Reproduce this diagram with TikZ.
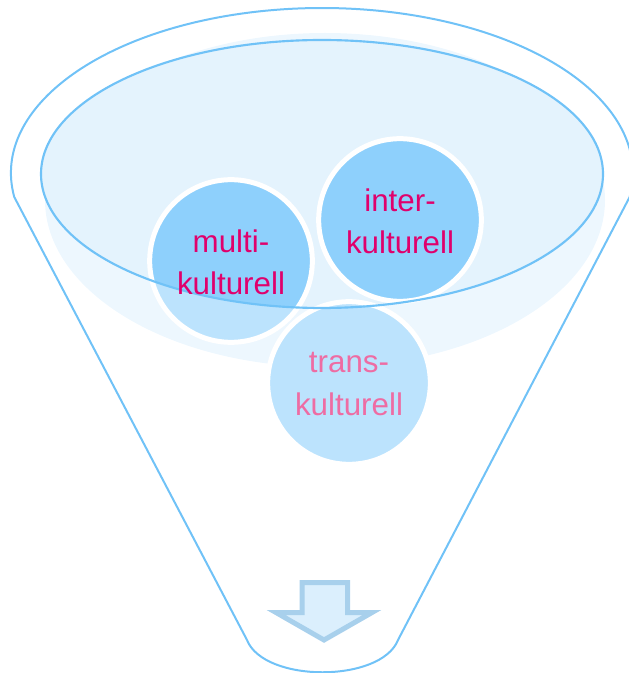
\documentclass[tikz,border=0pt]{standalone}
\usepackage{fontspec}
\setmainfont{Liberation Sans}
\definecolor{lineblue}{HTML}{70C2F7}
\definecolor{bowlfill}{HTML}{EDF7FE}
\definecolor{surface}{HTML}{E4F3FD}
\definecolor{darkbub}{HTML}{8ED0FC}
\definecolor{lightbub}{HTML}{BCE3FD}
\definecolor{magtext}{HTML}{E0006C}
\definecolor{pinktext}{HTML}{EE6CA3}
\definecolor{arrowfill}{HTML}{DBEFFD}
\definecolor{arrowline}{HTML}{A8D0EC}
\begin{document}
\begin{tikzpicture}[x=0.75pt,y=-0.75pt,
  bubble/.style={circle, draw=white, line width=3.75pt, minimum size=122pt, inner sep=0pt},
  label/.style={align=center, font=\fontsize{23.5}{32}\selectfont, inner sep=0pt},
  funnel/.style={draw=lineblue, line width=1.5pt, line join=round},
  rim/.style={draw=lineblue, line width=1.6pt}]
\useasboundingbox (0,0) rectangle (628,673);
% bowl content
\fill[bowlfill] (325,200) ellipse [x radius=210pt, y radius=125.25pt];
\coordinate (ec) at (322,174);
\fill[surface] (ec) ellipse [x radius=210.75pt, y radius=100.5pt];
% bubbles
\node[bubble, fill=lightbub,
  path picture={\fill[darkbub] (ec) ellipse [x radius=210.75pt, y radius=100.5pt];}]
  (multiC) at (231,261) {};
\node[bubble, fill=lightbub,
  path picture={\fill[darkbub] (ec) ellipse [x radius=210.75pt, y radius=100.5pt];}]
  (interC) at (400,220) {};
\node[bubble, fill=lightbub] (transC) at (349,383) {};
% surface rim
\draw[rim] (ec) ellipse [x radius=210.75pt, y radius=100.5pt];
% funnel outline
\draw[funnel] (247,640) -- (14.3,197.1)
  arc [start angle=188.4, end angle=-8.4, x radius=233.25pt, y radius=123.75pt]
  -- (398,640) .. controls (381,683) and (264,683) .. (247,640);
% arrow
\draw[fill=arrowfill, draw=arrowline, line width=3.75pt, line join=miter]
  (302,582.5) -- (347.5,582.5) -- (347.5,612.5) -- (372,612.5) -- (324,640)
  -- (276,612.5) -- (302,612.5) -- cycle;
% labels
\node[label, text=magtext] (multi) at (multiC.center) [yshift=-1pt] {multi-\\kulturell};
\node[label, text=magtext] (inter) at (interC.center) [yshift=-1pt] {inter-\\kulturell};
\node[label, text=pinktext] (trans) at (transC.center) [yshift=-1pt] {trans-\\kulturell};
\end{tikzpicture}
\end{document}
